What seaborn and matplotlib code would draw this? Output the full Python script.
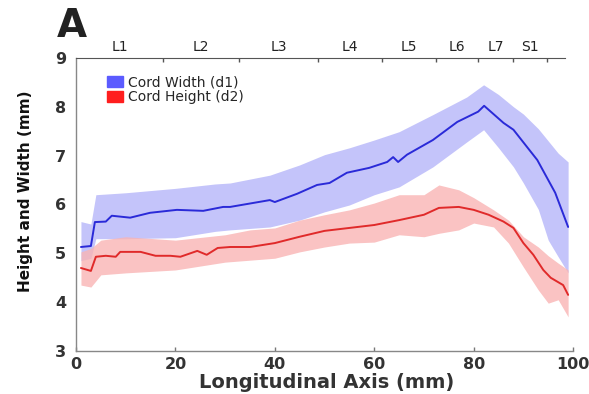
import seaborn as sns
import matplotlib.pyplot as plt
import numpy as np
import pandas as pd
from matplotlib.patches import Patch

# cord width (d1): mean and band edges
width_x = [1, 3, 3.8, 6, 7.2, 10.9, 14.9, 20.3, 25.6, 29.6, 31, 39, 40, 44.5, 48.5, 51,
           54.5, 59, 62.6, 63.8, 64.8, 66.6, 71.8, 76.7, 80.9, 82.1, 86, 88, 92.8, 96.4, 99]
width_mean = [5.13, 5.15, 5.64, 5.65, 5.77, 5.73, 5.83, 5.89, 5.87, 5.95, 5.95, 6.09, 6.05, 6.22, 6.40, 6.44,
              6.65, 6.75, 6.87, 6.97, 6.87, 7.02, 7.32, 7.69, 7.90, 8.02, 7.67, 7.53, 6.91, 6.24, 5.54]

width_band_x = [1, 3, 4, 10, 20, 28, 31, 39, 45, 50, 55, 60, 65, 71.8, 78.6, 82,
                85, 88, 90, 93, 95, 97, 99]
width_upper = [5.65, 5.6, 6.2, 6.24, 6.33, 6.42, 6.44, 6.6, 6.81, 7.02, 7.16, 7.32, 7.49, 7.84, 8.2, 8.45,
               8.25, 8.0, 7.85, 7.55, 7.3, 7.05, 6.87]
width_lower = [4.85, 4.9, 5.3, 5.3, 5.32, 5.45, 5.48, 5.54, 5.68, 5.85, 5.99, 6.2, 6.36, 6.77, 7.28, 7.53,
               7.16, 6.77, 6.44, 5.9, 5.27, 4.93, 4.6]

# cord height (d2)
height_x = [1, 3, 4, 6, 8, 8.9, 13, 16, 19, 21, 24.4, 26.3, 28.5, 31, 35, 40, 45, 50, 55, 60, 65,
            70, 73, 77, 80, 83, 86, 88, 90, 92, 94, 95.5, 97, 98, 99]
height_mean = [4.70, 4.64, 4.93, 4.95, 4.93, 5.03, 5.03, 4.95, 4.95, 4.93, 5.05, 4.97, 5.11, 5.13, 5.13,
               5.21, 5.34, 5.46, 5.52, 5.58, 5.68, 5.79, 5.93, 5.95, 5.89, 5.79, 5.65, 5.52, 5.21, 4.97,
               4.66, 4.50, 4.41, 4.35, 4.15]

height_band_x = [1, 3, 5, 10, 20, 30, 35, 40, 45, 50, 55, 60, 65, 70, 73, 77, 80, 84, 87, 90, 93,
                 95, 97, 99]
height_upper = [5.03, 5.1, 5.27, 5.34, 5.27, 5.38, 5.48, 5.52, 5.68, 5.79, 5.89, 6.03, 6.2, 6.2, 6.4,
                6.3, 6.14, 5.89, 5.68, 5.34, 5.13, 4.95, 4.8, 4.66]
height_lower = [4.35, 4.31, 4.56, 4.6, 4.66, 4.82, 4.86, 4.9, 5.03, 5.13, 5.21, 5.23, 5.38, 5.34, 5.41,
                5.48, 5.62, 5.54, 5.21, 4.72, 4.25, 3.98, 4.05, 3.7]

level_edges = [0, 17.5, 32.8, 48.7, 61.6, 72.4, 80.9, 87.9, 94.8]
level_labels = ["L1", "L2", "L3", "L4", "L5", "L6", "L7", "S1"]

sns.set_style("white")
plt.rcParams['font.family'] = ['DejaVu Sans']

fig = plt.figure(figsize=(5.89, 3.94), dpi=100)
ax = fig.add_axes([0.129, 0.109, 0.844, 0.744])

ax.fill_between(width_band_x, width_lower, width_upper, color="#c4c4fa", lw=0, zorder=1)
ax.fill_between(height_band_x, height_lower, height_upper, color="#f9b4b4", lw=0, alpha=0.8, zorder=2)

df_w = pd.DataFrame({"x": width_x, "y": width_mean})
df_h = pd.DataFrame({"x": height_x, "y": height_mean})
sns.lineplot(data=df_w, x="x", y="y", color="#2a2ad8", lw=1.4, ax=ax, zorder=3)
sns.lineplot(data=df_h, x="x", y="y", color="#e02a2a", lw=1.4, ax=ax, zorder=3)

ax.set_xlim(0, 100)
ax.set_ylim(3, 9)
ax.set_xticks([0, 20, 40, 60, 80, 100])
ax.set_yticks([3, 4, 5, 6, 7, 8, 9])
ax.tick_params(direction="in", length=3, width=1, colors="#777777", labelcolor="#333333",
               labelsize=11.5)
ax.tick_params(axis="x", pad=4)
ax.tick_params(axis="y", pad=7)
for lab in ax.get_xticklabels() + ax.get_yticklabels():
    lab.set_fontweight("bold")
ax.set_xlabel("Longitudinal Axis (mm)", fontsize=14, fontweight="bold", color="#333333")
ax.set_ylabel("Height and Width (mm)", fontsize=11, fontweight="bold", color="#111111")
ax.xaxis.set_label_coords(0.505, -0.074)
ax.yaxis.set_label_coords(-0.087, 0.546)
for s in ["left", "bottom"]:
    ax.spines[s].set_color("#888888")
    ax.spines[s].set_linewidth(1)
ax.spines["right"].set_visible(False)
ax.spines["top"].set_visible(False)

# vertebral levels on top
top = ax.twiny()
top.set_xlim(0, 100)
top.set_xticks(level_edges[1:])
top.set_xticklabels([])
centers = [(a + b) / 2 for a, b in zip(level_edges[:-1], level_edges[1:])]
top.set_xticks(centers, minor=True)
top.set_xticklabels(level_labels, minor=True)
top.tick_params(which="major", direction="in", length=3, width=1, colors="#555555")
top.tick_params(which="minor", length=0, labelsize=10, labelcolor="#222222", pad=3)
top.spines["top"].set_color("#555555")
top.spines["top"].set_bounds(0, 98.4)
for s in ["left", "right", "bottom"]:
    top.spines[s].set_visible(False)

handles = [Patch(color="#5b5bff", label="Cord Width (d1)"),
           Patch(color="#ff1e1e", label="Cord Height (d2)")]
ax.legend(handles=handles, loc="upper left", bbox_to_anchor=(0.062, 0.94), frameon=False,
          fontsize=10, handlelength=1.2, handleheight=0.9, handletextpad=0.3,
          labelspacing=0.05, borderaxespad=0, borderpad=0)

fig.text(0.097, 0.906, "A", fontsize=28, fontweight="bold", color="#222222", va="baseline", ha="left")

fig.savefig("out.png", dpi=100)
